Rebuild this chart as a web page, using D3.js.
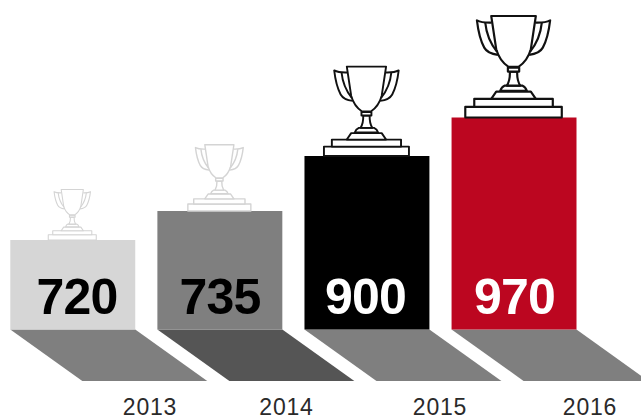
<!DOCTYPE html>
<html>
<head>
<meta charset="utf-8">
<script src="https://cdn.jsdelivr.net/npm/d3@7"></script>
<style>
  html, body { margin: 0; background: #fff; }
  svg { display: block; }
  text { font-family: "Liberation Sans", Arial, sans-serif; }
</style>
</head>
<body>
<svg width="641" height="416"></svg>
<script>
const years = ["2013", "2014", "2015", "2016"]
const values = [720, 735, 900, 970]
const barColors = ["#d6d6d6", "#7f7f7f", "#000000", "#bc0620"]
const shadowColors = ["#7f7f7f", "#555555", "#7f7f7f", "#7f7f7f"]
const labelColors = ["#000000", "#000000", "#ffffff", "#ffffff"]
const trophyColors = ["#d4d4d4", "#d4d4d4", "#111111", "#111111"]

const baseY = 329.5
const shadowBottom = 381
const shadowSlant = 72

const svg = d3.select("svg")

const x = d3.scaleBand()
    .domain(years)
    .range([10.3, 576.5])
    .paddingInner(0.1506)
    .paddingOuter(0)

// bars in the picture are not to scale with their numbers, so piecewise
const y = d3.scaleLinear()
    .domain(values)
    .range([240, 211, 156, 117.5])

const trophyWidth = d3.scaleLinear()
    .domain(values)
    .range([48, 63, 85, 96.5])

// the year labels sit off to the right of each bar, unevenly
const yearX = d3.scaleOrdinal()
    .domain(years)
    .range([150, 286.5, 440, 590])

// the numbers are not quite centred on their bars either
const labelX = d3.scaleOrdinal()
    .domain(years)
    .range([77, 220, 365.5, 514.5])

const rows = years.map((year, i) => ({
    year,
    value: values[i],
    bar: barColors[i],
    shadow: shadowColors[i],
    label: labelColors[i],
    trophy: trophyColors[i]
}))

// shadows
svg.append("g")
    .selectAll("path")
    .data(rows)
    .join("path")
    .attr("fill", d => d.shadow)
    .attr("d", d => {
        const x0 = x(d.year), x1 = x0 + x.bandwidth()
        return d3.line()([
            [x0, baseY],
            [x1, baseY],
            [x1 + shadowSlant, shadowBottom],
            [x0 + shadowSlant, shadowBottom]
        ]) + "Z"
    })

// bars
svg.append("g")
    .selectAll("rect")
    .data(rows)
    .join("rect")
    .attr("x", d => x(d.year))
    .attr("y", d => y(d.value))
    .attr("width", x.bandwidth())
    .attr("height", d => baseY - y(d.value))
    .attr("fill", d => d.bar)

// numbers
svg.append("g")
    .selectAll("text")
    .data(rows)
    .join("text")
    .attr("x", d => labelX(d.year))
    .attr("y", 313.5)
    .attr("text-anchor", "middle")
    .attr("font-size", 50)
    .attr("font-weight", "bold")
    .attr("letter-spacing", -0.8)
    .attr("fill", d => d.label)
    .text(d => d.value)

// year labels
svg.append("g")
    .selectAll("text")
    .data(rows)
    .join("text")
    .attr("x", d => yearX(d.year))
    .attr("y", 414.5)
    .attr("text-anchor", "middle")
    .attr("font-size", 23)
    .attr("letter-spacing", 0.8)
    .attr("fill", "#2a2a2a")
    .text(d => d.year)

// trophy glyph, drawn 290 units wide with origin at bottom centre of the plinth
const trophyShapes = [
    "M-145,-32H145V0H-145Z",
    "M-118,-56H118V-32H-118Z",
    "M-67,-56L-52,-78H52L67,-56Z",
    "M-40,-80Q-36,-92 -26,-96H26Q36,-92 40,-80Z",
    "M-20,-96Q-10,-112 -11,-138H11Q10,-112 20,-96Z",
    "M-17,-150H17V-138H-17Z",
    "M-67,-305H67L52,-205Q42,-170 15,-152H-15Q-42,-170 -52,-205Z",
    // handles
    "M-66,-285Q-95,-284 -110,-292Q-104,-240 -88,-210Q-78,-192 -47,-188",
    "M66,-285Q95,-284 110,-292Q104,-240 88,-210Q78,-192 47,-188",
    "M-85,-285Q-80,-235 -50,-198",
    "M85,-285Q80,-235 50,-198"
]

const trophies = svg.append("g")
    .selectAll("g")
    .data(rows)
    .join("g")
    .attr("transform", d => {
        const s = trophyWidth(d.value) / 290
        return `translate(${x(d.year) + x.bandwidth() / 2 - 0.5},${y(d.value)}) scale(${s})`
    })

trophies.selectAll("path")
    .data(d => trophyShapes.map(shape => ({ shape, color: d.trophy })))
    .join("path")
    .attr("d", d => d.shape)
    .attr("fill", d => d.shape.endsWith("Z") ? "#fff" : "none")
    .attr("stroke", d => d.color)
    .attr("stroke-width", 6.5)
    .attr("stroke-linejoin", "round")
</script>
</body>
</html>
